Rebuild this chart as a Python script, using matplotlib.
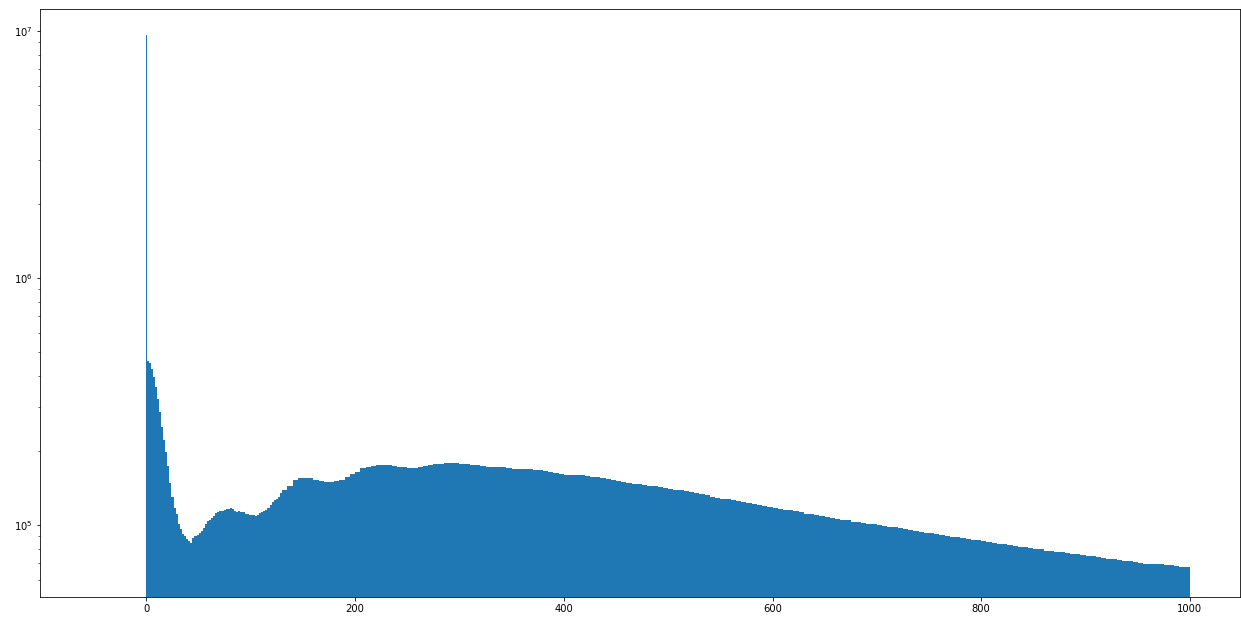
"""
Log-scale histogram of pixel values (0-1000) with a spike at zero
"""

import numpy as np
import matplotlib.pyplot as plt

# spike bin [0, 1)
spike_count = 9.6e6

# bins [1, 2), [2, 4), ... [128, 130)  -- counts in thousands
counts_fine_k = [
    461, 453, 428, 397, 362, 324, 287, 249, 221, 198,
    173, 147.9, 129.8, 117.2, 110.8, 100.9, 96.3, 91.9, 90.2, 87.7,
    86.1, 84.6, 88.6, 90.2, 91.5, 92.8, 94.6, 97.2, 100.9, 103.8,
    105.2, 106.7, 108.7, 111.9, 112.9, 113.5, 114.0, 115.0, 116.1, 116.6,
    117.2, 116.1, 114.0, 112.9, 114.0, 112.9, 112.4, 111.3, 110.8, 109.8,
    109.8, 109.3, 108.7, 109.8, 111.9, 112.9, 114.0, 115.0, 117.2, 120.5,
    123.9, 126.2, 127.4, 130.4, 134.8,
]

# bins [130, 135), [135, 140), ... [995, 1000)  -- counts in thousands
counts_k = [
    138.7, 143.9, 152.0, 155.0,
    155.0, 155.0, 152.0, 150.7, 149.3, 149.3, 150.7, 152.0, 156.4, 160.7,
    164.0, 170.0, 171.7, 173.3, 175.0, 175.0, 175.0, 173.3, 171.7, 171.0,
    170.0, 170.0, 171.7, 173.3, 175.0, 176.0, 176.6, 177.5, 178.2, 177.5,
    176.6, 176.0, 175.0, 174.2, 173.3, 172.5, 171.7, 171.7, 171.0, 170.0,
    169.0, 168.6, 168.6, 167.8, 167.0, 166.2, 164.7, 163.2, 162.5, 160.7,
    160.0, 159.4, 159.0, 158.7, 157.8, 156.4, 155.7, 154.3, 153.5, 152.0,
    150.7, 149.3, 147.9, 147.2, 146.6, 145.2, 143.9, 143.2, 142.5, 140.6,
    140.0, 138.7, 138.0, 136.7, 135.4, 134.2, 132.9, 131.7, 130.4, 129.2,
    128.0, 127.4, 126.2, 125.1, 123.9, 122.8, 121.6, 120.5, 119.4, 118.3,
    117.7, 116.6, 115.5, 114.5, 113.4, 112.4, 111.3, 110.3, 109.8, 108.7,
    107.7, 106.7, 106.2, 105.2, 104.3, 103.3, 102.8, 101.9, 100.9, 100.5,
    100.0, 99.1, 98.2, 97.7, 96.8, 96.3, 95.4, 94.5, 93.7, 92.8,
    92.4, 91.9, 91.1, 90.2, 89.4, 89.0, 88.2, 87.7, 87.3, 86.9,
    86.1, 85.3, 84.5, 83.7, 83.4, 83.0, 82.2, 81.5, 81.1, 80.7,
    80.0, 79.6, 78.8, 78.5, 77.7, 77.4, 77.0, 76.3, 76.0, 75.6,
    74.9, 74.6, 74.2, 73.5, 72.8, 72.5, 72.2, 71.5, 71.2, 70.8,
    70.2, 69.8, 69.5, 69.5, 69.2, 68.9, 68.6, 68.3, 67.9, 67.6,
]

BLUE = '#1f77b4'


def build_bins():
    edges = np.concatenate([[0, 1], np.arange(2, 131, 2), np.arange(135, 1001, 5)])
    counts = np.concatenate([[spike_count],
                             np.array(counts_fine_k) * 1000,
                             np.array(counts_k) * 1000])
    return edges, counts


def main():
    edges, counts = build_bins()
    left = edges[:-1]

    plt.rcParams['font.size'] = 10
    fig = plt.figure(figsize=(1241 / 72, 617 / 72), dpi=72)
    ax = fig.add_axes([40 / 1241, 1 - 597 / 617, 1200 / 1241, 588 / 617])

    ax.hist(left, bins=edges, weights=counts, color=BLUE)
    ax.set_yscale('log')
    ax.set_xlim(-102, 1048)
    ax.set_ylim(5.11e4, 1.228e7)
    ax.set_xticks([0, 200, 400, 600, 800, 1000])

    fig.savefig('out.png', dpi=72)


if __name__ == "__main__":
    main()
